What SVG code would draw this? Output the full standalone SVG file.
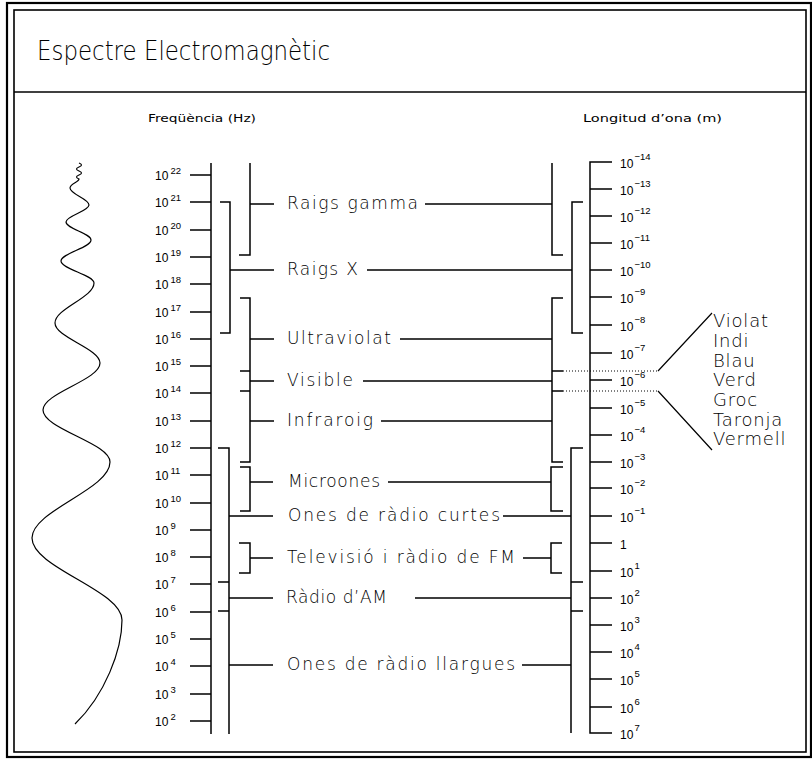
<svg xmlns="http://www.w3.org/2000/svg" width="812" height="760" viewBox="0 0 812 760">
<style>
.ln{stroke:#000;stroke-width:1.5;fill:none}
.th{stroke:#000;stroke-width:1.2;fill:none}
.dot{stroke:#000;stroke-width:1;stroke-dasharray:1 2;fill:none}
.lbl{font-family:"DejaVu Sans","Liberation Sans",sans-serif;font-weight:200;font-size:17px;fill:#000}
.col{font-family:"DejaVu Sans","Liberation Sans",sans-serif;font-weight:200;font-size:18px;fill:#000}
.hdr{font-family:"DejaVu Sans","Liberation Sans",sans-serif;font-size:11px;fill:#000}
.tk{font-family:"Liberation Sans",Arial,sans-serif;font-size:12px;fill:#000}
.sp{font-family:"Liberation Sans",Arial,sans-serif;font-size:9.5px;fill:#000}
</style>
<rect width="812" height="760" fill="#fff"/>
<g id="frame">
<rect x="7" y="3" width="804" height="754" fill="none" stroke="#000" stroke-width="2.2"/>
<rect x="14" y="10" width="792" height="742" fill="none" stroke="#000" stroke-width="1.6"/>
<line x1="14" y1="92" x2="806" y2="92" stroke="#000" stroke-width="1.6"/>
</g>
<g id="title">
<text x="37" y="60" font-family="DejaVu Sans, Liberation Sans, sans-serif" font-weight="200" font-size="26" textLength="293" lengthAdjust="spacingAndGlyphs">Espectre Electromagnètic</text>
</g>
<g id="headers">
<text class="hdr" x="148" y="122" textLength="108" lengthAdjust="spacingAndGlyphs">Freqüència (Hz)</text>
<text class="hdr" x="583" y="122" textLength="139" lengthAdjust="spacingAndGlyphs">Longitud d’ona (m)</text>
</g>
<g id="wave">
<path class="th" d="M79 163 q5 2 0 4 q-5 2 0 4 q5 2 0 4 q-5 2 0 4 C79 182 70 184 70 188 C70 194.2 89 198.8 89 205 C89 211.2 66 215.8 66 222 C66 228.5 91 233.5 91 240 C91 247.6 61 253.4 61 261 C61 269 94 275 94 283 C94 297.5 55 308.5 55 323 C55 337.5 100 348.5 100 363 C100 380 43 393 43 410 C43 429 110 443 110 462 C110 489.6 32 510.4 32 538 C32 567.8 122 590.2 122 620 C122 650 105 695 75 724"/>
</g>
<g id="freq-axis">
<path class="ln" d="M211 163 V734 M190 175 H211 M190 202 H211 M190 230 H211 M190 257 H211 M190 284 H211 M190 312 H211 M190 339 H211 M190 366 H211 M190 393 H211 M190 421 H211 M190 448 H211 M190 475 H211 M190 503 H211 M190 530 H211 M190 557 H211 M190 584 H211 M190 612 H211 M190 639 H211 M190 666 H211 M190 694 H211 M190 721 H211"/>
<g class="tk">
<text x="155" y="180">10</text><text x="155" y="207">10</text><text x="155" y="235">10</text><text x="155" y="262">10</text><text x="155" y="289">10</text><text x="155" y="317">10</text><text x="155" y="344">10</text><text x="155" y="371">10</text><text x="155" y="398">10</text><text x="155" y="426">10</text><text x="155" y="453">10</text><text x="155" y="480">10</text><text x="155" y="508">10</text><text x="155" y="535">10</text><text x="155" y="562">10</text><text x="155" y="589">10</text><text x="155" y="617">10</text><text x="155" y="644">10</text><text x="155" y="671">10</text><text x="155" y="699">10</text><text x="155" y="726">10</text>
</g>
<g class="sp">
<text x="170.5" y="174">22</text><text x="170.5" y="201">21</text><text x="170.5" y="229">20</text><text x="170.5" y="256">19</text><text x="170.5" y="283">18</text><text x="170.5" y="311">17</text><text x="170.5" y="338">16</text><text x="170.5" y="365">15</text><text x="170.5" y="392">14</text><text x="170.5" y="420">13</text><text x="170.5" y="447">12</text><text x="170.5" y="474">11</text><text x="170.5" y="502">10</text><text x="170.5" y="529">9</text><text x="170.5" y="556">8</text><text x="170.5" y="583">7</text><text x="170.5" y="611">6</text><text x="170.5" y="638">5</text><text x="170.5" y="665">4</text><text x="170.5" y="693">3</text><text x="170.5" y="720">2</text>
</g>
</g>
<g id="wavelength-axis">
<path class="ln" d="M612 162 H590 V733 H612 M590 189 H612 M590 216 H612 M590 243 H612 M590 270 H612 M590 297 H612 M590 325 H612 M590 353 H612 M590 380 H612 M590 408 H612 M590 435 H612 M590 462 H612 M590 488 H612 M590 516 H612 M590 543 H612 M590 571 H612 M590 598 H612 M590 625 H612 M590 652 H612 M590 679 H612 M590 707 H612"/>
<g class="tk">
<text x="620" y="167.5">10</text><text x="620" y="194.5">10</text><text x="620" y="221.5">10</text><text x="620" y="248.5">10</text><text x="620" y="275.5">10</text><text x="620" y="302.5">10</text><text x="620" y="330.5">10</text><text x="620" y="358.5">10</text><text x="620" y="385.5">10</text><text x="620" y="413.5">10</text><text x="620" y="440.5">10</text><text x="620" y="467.5">10</text><text x="620" y="493.5">10</text><text x="620" y="521.5">10</text><text x="620" y="548.5">1</text><text x="620" y="576.5">10</text><text x="620" y="603.5">10</text><text x="620" y="630.5">10</text><text x="620" y="657.5">10</text><text x="620" y="684.5">10</text><text x="620" y="712.5">10</text><text x="620" y="738.5">10</text>
</g>
<g class="sp">
<text x="634.5" y="160">−14</text><text x="634.5" y="187">−13</text><text x="634.5" y="214">−12</text><text x="634.5" y="241">−11</text><text x="634.5" y="268">−10</text><text x="634.5" y="295">−9</text><text x="634.5" y="323">−8</text><text x="634.5" y="351">−7</text><text x="634.5" y="378">−6</text><text x="634.5" y="406">−5</text><text x="634.5" y="433">−4</text><text x="634.5" y="460">−3</text><text x="634.5" y="486">−2</text><text x="634.5" y="514">−1</text><text x="634.5" y="569">1</text><text x="634.5" y="596">2</text><text x="634.5" y="623">3</text><text x="634.5" y="650">4</text><text x="634.5" y="677">5</text><text x="634.5" y="705">6</text><text x="634.5" y="731">7</text>
</g>
</g>
<g id="connectors">
<path class="ln" d="M250 163 V255 H239 M250 204 H274 M425 204 H552 M552 163 V255 H563"/>
<path class="ln" d="M220 202 H230 V333 H220 M230 270 H274 M367 270 H572 M583 202 H572 V333 H583"/>
<path class="ln" d="M240 298 H250 V462 H240 M240 371 H250 M240 391 H250 M250 339 H274 M250 381 H274 M250 421 H274"/>
<path class="ln" d="M563 298 H552 V462 H563 M552 371 H563 M552 391 H563 M400 339 H552 M363 381 H552 M381 421 H552"/>
<path class="ln" d="M240 467 H250 V511 H240 M250 482 H273 M388 482 H551 M563 467 H551 V511 H563"/>
<path class="ln" d="M218 448 H229 V734 M218 582 H229 M218 611 H229 M229 516 H273 M229 598 H273 M229 665 H273"/>
<path class="ln" d="M583 448 H571 V733 M571 582 H583 M571 611 H583 M503 516 H571 M415 598 H571 M522 665 H571"/>
<path class="ln" d="M239 543 H250 V573 H239 M250 558 H273 M523 558 H551 M562 543 H551 V573 H562"/>
<path class="dot" d="M563 371 H658 M563 391 H658"/>
<path class="th" d="M658 371 L712 313 M658 391 L712 450"/>
</g>
<g id="raigs-gamma"><text class="lbl" x="287" y="209" textLength="131" lengthAdjust="spacing">Raigs gamma</text></g>
<g id="raigs-x"><text class="lbl" x="287" y="275" textLength="71" lengthAdjust="spacing">Raigs X</text></g>
<g id="ultraviolat"><text class="lbl" x="287" y="344" textLength="104" lengthAdjust="spacing">Ultraviolat</text></g>
<g id="visible"><text class="lbl" x="287" y="386" textLength="66" lengthAdjust="spacing">Visible</text></g>
<g id="infraroig"><text class="lbl" x="287" y="426" textLength="86" lengthAdjust="spacing">Infraroig</text></g>
<g id="microones"><text class="lbl" x="288" y="487" textLength="92" lengthAdjust="spacing">Microones</text></g>
<g id="ones-curtes"><text class="lbl" x="288" y="521" textLength="212" lengthAdjust="spacing">Ones de ràdio curtes</text></g>
<g id="tv-fm"><text class="lbl" x="287" y="563" textLength="228" lengthAdjust="spacing">Televisió i ràdio de FM</text></g>
<g id="radio-am"><text class="lbl" x="286" y="603" textLength="101" lengthAdjust="spacing">Ràdio d’AM</text></g>
<g id="ones-llargues"><text class="lbl" x="287" y="670" textLength="228" lengthAdjust="spacing">Ones de ràdio llargues</text></g>
<g id="colors">
<text class="col" x="713" y="327" letter-spacing="0.8">Violat</text>
<text class="col" x="713" y="347" letter-spacing="0.8">Indi</text>
<text class="col" x="713" y="366.5" letter-spacing="0.8">Blau</text>
<text class="col" x="713" y="386" letter-spacing="0.8">Verd</text>
<text class="col" x="713" y="406" letter-spacing="0.8">Groc</text>
<text class="col" x="713" y="426" letter-spacing="0.8">Taronja</text>
<text class="col" x="713" y="445" letter-spacing="0.8">Vermell</text>
</g>
</svg>
